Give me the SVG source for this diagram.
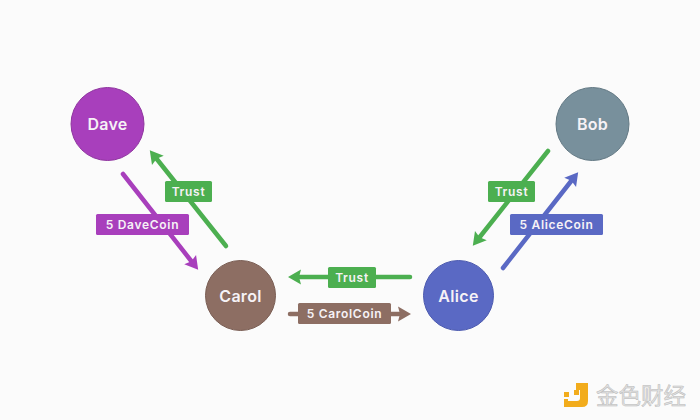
<svg xmlns="http://www.w3.org/2000/svg" width="700" height="420" viewBox="0 0 700 420">
<style>
text{font-family:"Inter","Open Sans","Liberation Sans",sans-serif;fill:#f6f2f6;text-anchor:middle}
.n{font-size:16px;font-weight:600;letter-spacing:.3px}
.l{font-size:12px;font-weight:600;letter-spacing:.7px}
.c{stroke-width:4.500;stroke-linecap:round;fill:none}
.g{stroke:#4caf50}.gf{fill:#4caf50}
.p{stroke:#a83fbc}.pf{fill:#a83fbc}
.b{stroke:#5a69c4}.bf{fill:#5a69c4}
.r{stroke:#8d6e63}.rf{fill:#8d6e63}
</style>
<defs>
<marker id="mg" markerUnits="userSpaceOnUse" markerWidth="16" markerHeight="18" refX="3" refY="9" orient="auto"><path d="M0 1.500L13 9L0 16.500L2 9Z" fill="#4caf50"/></marker>
<marker id="mp" markerUnits="userSpaceOnUse" markerWidth="16" markerHeight="18" refX="3" refY="9" orient="auto"><path d="M0 1.500L13 9L0 16.500L2 9Z" fill="#a83fbc"/></marker>
<marker id="mb" markerUnits="userSpaceOnUse" markerWidth="16" markerHeight="18" refX="3" refY="9" orient="auto"><path d="M0 1.500L13 9L0 16.500L2 9Z" fill="#5a69c4"/></marker>
<marker id="mr" markerUnits="userSpaceOnUse" markerWidth="16" markerHeight="18" refX="3" refY="9" orient="auto"><path d="M0 1.500L13 9L0 16.500L2 9Z" fill="#8d6e63"/></marker>
</defs>
<rect width="700" height="420" fill="#fbfbfb"/>
<g id="connectors">
<line class="c g" x1="226" y1="246" x2="156" y2="158" stroke-linecap="butt" marker-end="url(#mg)"/>
<line class="c p" x1="123" y1="174" x2="192" y2="262" marker-end="url(#mp)"/>
<line class="c g" x1="548" y1="151" x2="479" y2="238" marker-end="url(#mg)"/>
<line class="c b" x1="503" y1="268" x2="572" y2="180" marker-end="url(#mb)"/>
<line class="c g" x1="410" y1="277" x2="298" y2="277" marker-end="url(#mg)"/>
<line class="c r" x1="290" y1="314" x2="401" y2="314" marker-end="url(#mr)"/>
</g>
<g id="label-trust-dave"><rect class="gf" x="165" y="181" width="47" height="21" rx="1.500"/><text class="l" x="188.500" y="196">Trust</text></g>
<g id="label-davecoin"><rect class="pf" x="96" y="214" width="93" height="21" rx="1.500"/><text class="l" x="142.500" y="229">5 DaveCoin</text></g>
<g id="label-trust-bob"><rect class="gf" x="488" y="181" width="47" height="21" rx="1.500"/><text class="l" x="511.500" y="196">Trust</text></g>
<g id="label-alicecoin"><rect class="bf" x="510" y="214" width="93" height="21" rx="1.500"/><text class="l" x="556.500" y="229">5 AliceCoin</text></g>
<g id="label-trust-alice"><rect class="gf" x="328" y="267" width="48" height="21" rx="1.500"/><text class="l" x="352" y="282">Trust</text></g>
<g id="label-carolcoin"><rect class="rf" x="298" y="303" width="93" height="21" rx="1.500"/><text class="l" x="344.500" y="318">5 CarolCoin</text></g>
<g id="dave"><circle cx="107.500" cy="124" r="36.500" fill="#a83fbc" stroke="#8f359f" stroke-width="1"/><text class="n" x="107.500" y="130">Dave</text></g>
<g id="bob"><circle cx="592.500" cy="124" r="36.500" fill="#78909c" stroke="#637984" stroke-width="1"/><text class="n" x="592.500" y="130">Bob</text></g>
<g id="carol"><circle cx="240.500" cy="295.500" r="35" fill="#8d6e63" stroke="#7a5e54" stroke-width="1"/><text class="n" x="240.500" y="302">Carol</text></g>
<g id="alice"><circle cx="458.500" cy="295.500" r="35" fill="#5a69c4" stroke="#4c5aaf" stroke-width="1"/><text class="n" x="458.500" y="302">Alice</text></g>
<g id="watermark">
<path d="M576 383h12v18q0 6-6 6h-18v-8h4v2h9q3 0 3-3v-8h-4Z" fill="#f2ac1c"/>
<rect x="574" y="390" width="5" height="5" fill="#f2ac1c"/>
<rect x="564" y="392" width="5" height="5" fill="#f2ac1c"/>
<text x="641" y="404" style="font-family:'Noto Sans CJK SC',sans-serif;font-size:22.500px;fill:#e2e2e2;stroke:#b8b8b8;stroke-width:.5">金色财经</text>
</g>
</svg>
